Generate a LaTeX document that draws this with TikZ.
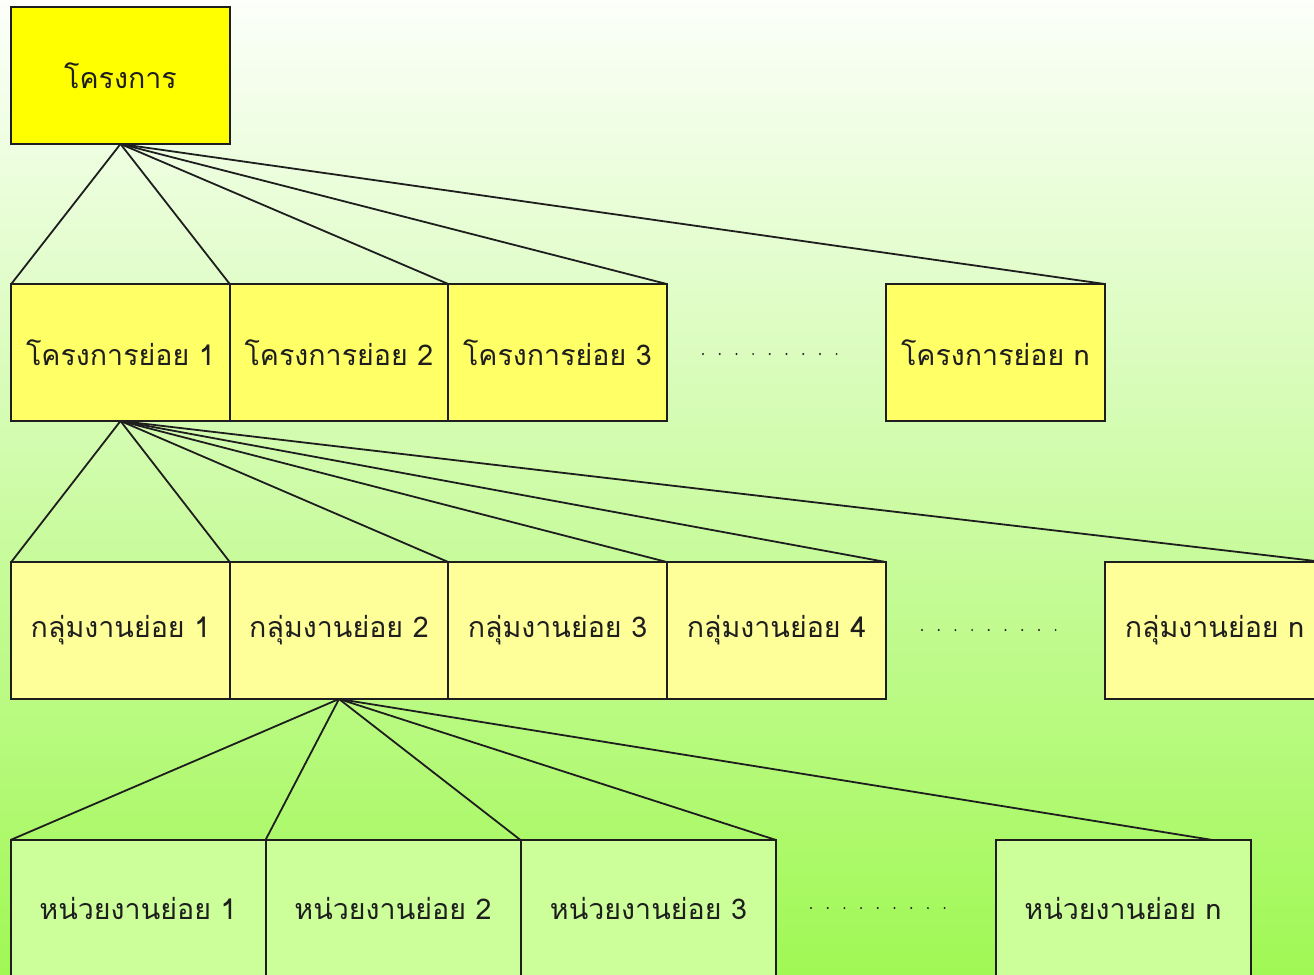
\documentclass[tikz,border=0pt]{standalone}
\usepackage{fontspec}
\newfontfamily\thaifont[Script=Thai]{Loma}
\usetikzlibrary{calc}
\definecolor{bgtop}{RGB}{252,255,250}
\definecolor{bgbottom}{RGB}{160,248,84}
\definecolor{lvA}{RGB}{255,255,0}
\definecolor{lvB}{RGB}{255,255,102}
\definecolor{lvC}{RGB}{255,255,153}
\definecolor{lvD}{RGB}{204,255,153}
\definecolor{ink}{RGB}{30,30,30}
\tikzset{
  box/.style={draw=ink, line width=1pt, rectangle, outer sep=0pt, inner sep=0pt,
    minimum height=68.5pt, font=\thaifont\fontsize{14.3}{17}\selectfont, text=ink},
  topbox/.style={box, fill=lvA, minimum width=109.5pt},
  projbox/.style={box, fill=lvB, minimum width=109.25pt},
  groupbox/.style={box, fill=lvC, minimum width=109.25pt},
  unitbox/.style={box, fill=lvD, minimum width=127.5pt},
  link/.style={draw=ink, line width=0.9pt},
  gap/.style={draw=ink, line width=1.1pt, line cap=round, dash pattern=on 0pt off 8.35pt}
}
\begin{document}
\begin{tikzpicture}[x=0.5pt, y=-0.5pt]
  \useasboundingbox (0,0) rectangle (1314,975);
  \clip (0,0) rectangle (1314,975);
  \shade[top color=bgtop, bottom color=bgbottom] (0,0) rectangle (1314,975);

  % level 1
  \node[topbox] (top) at (120.5,75.5) {โครงการ};

  % level 2
  \node[projbox] (p1) at (120.5,352.5) {โครงการย่อย 1};
  \node[projbox] (p2) at (339,352.5) {โครงการย่อย 2};
  \node[projbox] (p3) at (557.5,352.5) {โครงการย่อย 3};
  \node[projbox] (pn) at (995.5,352.5) {โครงการย่อย n};
  \coordinate (pdA) at (703,354);
  \coordinate (pdB) at (836.6,354);
  \draw[gap] (pdA) -- (pdB);

  % level 3
  \node[groupbox] (g1) at (120.5,630.5) {กลุ่มงานย่อย 1};
  \node[groupbox] (g2) at (339,630.5) {กลุ่มงานย่อย 2};
  \node[groupbox] (g3) at (557.5,630.5) {กลุ่มงานย่อย 3};
  \node[groupbox] (g4) at (776.5,630.5) {กลุ่มงานย่อย 4};
  \node[groupbox] (gn) at (1214.5,630.5) {กลุ่มงานย่อย n};
  \coordinate (gdA) at (922,630);
  \coordinate (gdB) at (1055.6,630);
  \draw[gap] (gdA) -- (gdB);

  % level 4
  \node[unitbox] (u1) at (138,908.5) {หน่วยงานย่อย 1};
  \node[unitbox] (u2) at (393,908.5) {หน่วยงานย่อย 2};
  \node[unitbox] (u3) at (648.5,908.5) {หน่วยงานย่อย 3};
  \node[unitbox] (un) at (1123,908.5) {หน่วยงานย่อย n};
  \coordinate (udA) at (811,908);
  \coordinate (udB) at (944.6,908);
  \draw[gap] (udA) -- (udB);

  % connectors
  \draw[link] (top.south) -- (p1.north west);
  \draw[link] (top.south) -- (p1.north east);
  \draw[link] (top.south) -- (p2.north east);
  \draw[link] (top.south) -- (p3.north east);
  \draw[link] (top.south) -- (pn.north east);

  \draw[link] (p1.south) -- (g1.north west);
  \draw[link] (p1.south) -- (g1.north east);
  \draw[link] (p1.south) -- (g2.north east);
  \draw[link] (p1.south) -- (g3.north east);
  \draw[link] (p1.south) -- (g4.north east);
  \draw[link] (p1.south) -- (gn.north east);

  \draw[link] (g2.south) -- (u1.north west);
  \draw[link] (g2.south) -- (u1.north east);
  \draw[link] (g2.south) -- (u2.north east);
  \draw[link] (g2.south) -- (u3.north east);
  \draw[link] (g2.south) -- ([xshift=-19pt]un.north east);
\end{tikzpicture}
\end{document}
